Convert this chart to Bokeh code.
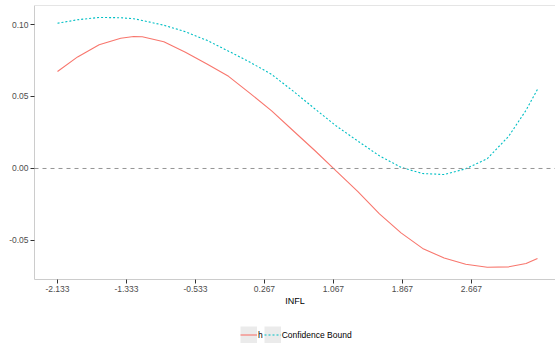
from bokeh.plotting import figure
from bokeh.layouts import column
from bokeh.models import (Range1d, FixedTicker, PrintfTickFormatter, Span, Legend,
                          LegendItem)
from bokeh.embed import file_html
from bokeh.resources import INLINE

# ---- data ----
infl = [-2.133, -1.9, -1.65, -1.4, -1.25, -1.15, -0.9, -0.65, -0.4, -0.15, 0.1, 0.35,
        0.6, 0.85, 1.1, 1.35, 1.6, 1.85, 2.1, 2.35, 2.6, 2.85, 3.1, 3.3, 3.432]
h = [0.0674, 0.0775, 0.0860, 0.0905, 0.0917, 0.0915, 0.0880, 0.0808, 0.0725, 0.0640,
     0.0522, 0.0400, 0.0262, 0.0125, -0.0018, -0.0160, -0.0315, -0.0447, -0.0555,
     -0.0622, -0.0665, -0.0686, -0.0683, -0.0660, -0.0625]
conf = [0.1009, 0.1033, 0.1049, 0.1047, 0.1040, 0.1028, 0.0995, 0.0950, 0.0890, 0.0815,
        0.0738, 0.0653, 0.0537, 0.0415, 0.0295, 0.0190, 0.0088, 0.0008, -0.0035,
        -0.0042, -0.0002, 0.0068, 0.0225, 0.0405, 0.0549]
x_ticks = [-2.1333, -1.3333, -0.5333, 0.2667, 1.0667, 1.8667, 2.6667]
y_ticks = [-0.05, 0.0, 0.05, 0.10]
series_labels = ["h", "Confidence Bound"]

RED = "#F8766D"
TEAL = "#00BFC4"
AXIS_GREY = "#cccccc"
KEY_GREY = "#ebebeb"
FONT = "Liberation Sans"
Y_TOP = 0.1132

p = figure(width=555, height=312, output_backend="svg", toolbar_location=None,
           x_range=Range1d(-2.3997, 3.641), y_range=Range1d(-0.0771, Y_TOP),
           min_border_left=34, min_border_right=0, min_border_top=5,
           min_border_bottom=33)
p.outline_line_color = None
p.xgrid.visible = False
p.ygrid.visible = False
p.background_fill_color = "white"
p.border_fill_color = "white"

for ax in (p.xaxis[0], p.yaxis[0]):
    ax.axis_line_color = AXIS_GREY
    ax.axis_line_width = 1
    ax.major_tick_line_color = "#333333"
    ax.major_tick_in = 0
    ax.major_tick_out = 4
    ax.minor_tick_line_color = None
    ax.major_label_text_font = FONT
    ax.major_label_text_font_size = "8.5px"
    ax.major_label_text_color = "#4d4d4d"
    ax.major_label_standoff = 2

p.xaxis.ticker = FixedTicker(ticks=x_ticks)
p.xaxis.formatter = PrintfTickFormatter(format="%.3f")
p.yaxis.ticker = FixedTicker(ticks=y_ticks)
p.yaxis.formatter = PrintfTickFormatter(format="%.2f")
p.xaxis.axis_label = "INFL"
p.xaxis.axis_label_text_font = FONT
p.xaxis.axis_label_text_font_size = "9px"
p.xaxis.axis_label_text_font_style = "normal"
p.xaxis.axis_label_text_color = "#000000"
p.xaxis.axis_label_standoff = 1

# top panel border
p.add_layout(Span(location=Y_TOP, dimension="width", line_color=AXIS_GREY, line_width=1))
# zero reference line
p.add_layout(Span(location=0.0, dimension="width", line_color="#8a8a8a",
                  line_width=0.9, line_dash="4 4"))

p.line(infl, h, line_color=RED, line_width=1.1)
p.line(infl, conf, line_color=TEAL, line_width=1.1, line_dash="2 2")

# ---- legend strip (separate figure so the legend is not clipped) ----
lg = figure(width=555, height=34, output_backend="svg", toolbar_location=None,
            x_range=Range1d(0, 1), y_range=Range1d(0, 1),
            x_axis_type=None, y_axis_type=None,
            min_border_left=0, min_border_right=0, min_border_top=0,
            min_border_bottom=0)
lg.outline_line_color = None
lg.xgrid.visible = False
lg.ygrid.visible = False
lg.border_fill_color = "white"
lg.background_fill_color = "white"

nan = float("nan")
k_bg = lg.line([nan, nan], [nan, nan], line_color=KEY_GREY, line_width=17, line_cap="butt")
k_h = lg.line([nan, nan], [nan, nan], line_color=RED, line_width=1.1)
k_c = lg.line([nan, nan], [nan, nan], line_color=TEAL, line_width=1.1, line_dash="2 2")

legend = Legend(items=[LegendItem(label=series_labels[0], renderers=[k_bg, k_h]),
                       LegendItem(label=series_labels[1], renderers=[k_bg, k_c])],
                orientation="horizontal", location=(206, 3),
                glyph_width=17, glyph_height=17, label_standoff=1, spacing=1,
                padding=0, margin=0, border_line_color=None,
                background_fill_alpha=0, label_text_font=FONT,
                label_text_font_size="8.5px", label_text_color="#000000",
                label_height=17, label_width=1)
lg.add_layout(legend, "center")

layout = column(p, lg, spacing=0)
open("out.html", "w").write(file_html(layout, INLINE))
